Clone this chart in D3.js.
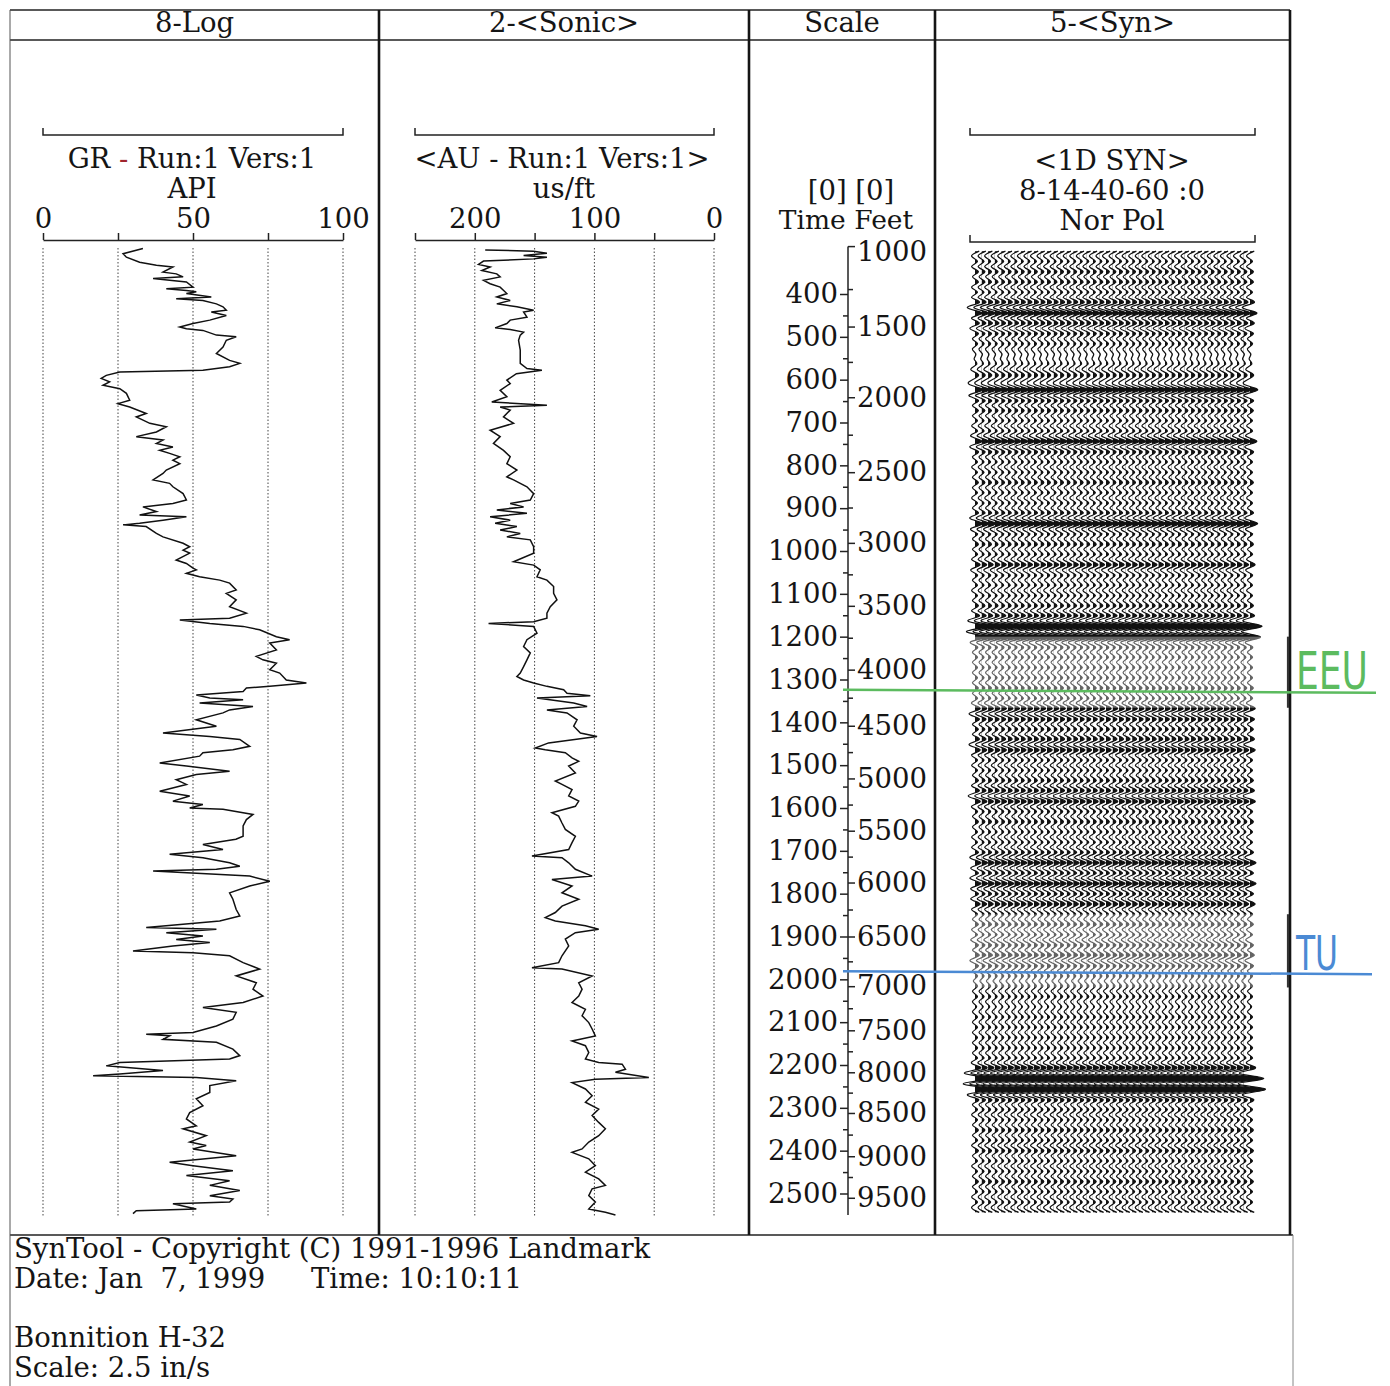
<!DOCTYPE html>
<html>
<head>
<meta charset="utf-8">
<script src="https://cdn.jsdelivr.net/npm/d3@7"></script>
<style>
body { margin: 0; background: #fff; }
text { fill: #151515; }
</style>
</head>
<body>
<svg id="chart" width="1390" height="1386"></svg>
<script>
// ---- data ----
var trackTitles = ["8-Log", "2-<Sonic>", "Scale", "5-<Syn>"];

// gamma ray (API) against two-way time (ms)
var grTime = [294,306,314,326,333,337,349,353,360,364,368,372,384,388,392,395,399,407,411,415,423,430,438,442,450,461,469,477,481,485,496,500,508,524,539,555,562,570,578,582,590,597,605,613,621,632,648,656,664,679,687,702,710,722,733,741,749,757,765,772,780,788,796,811,819,834,842,850,866,881,889,897,908,916,920,928,935,939,943,959,967,982,990,998,1005,1021,1029,1040,1044,1052,1060,1068,1075,1091,1099,1114,1130,1145,1157,1161,1169,1176,1184,1200,1207,1215,1231,1246,1254,1262,1277,1285,1301,1308,1316,1320,1328,1336,1343,1347,1355,1363,1371,1378,1394,1409,1425,1433,1440,1456,1464,1471,1479,1495,1502,1514,1522,1534,1545,1561,1572,1584,1592,1600,1603,1615,1627,1642,1666,1673,1685,1697,1708,1716,1728,1736,1743,1747,1759,1771,1782,1798,1813,1837,1852,1864,1879,1883,1891,1899,1907,1914,1922,1934,1938,1945,1961,1976,1992,2008,2023,2039,2054,2066,2077,2093,2109,2124,2128,2132,2140,2147,2163,2178,2186,2194,2202,2213,2221,2225,2229,2237,2248,2264,2279,2295,2311,2326,2342,2349,2365,2380,2388,2396,2412,2427,2435,2447,2458,2470,2481,2493,2505,2513,2520,2524,2536,2540,2547];
var grApi = [33.3,26.7,27.8,32.2,37.8,43.3,40,44.4,46.7,36.7,42.2,47.8,50,41.1,47.8,51.1,47.8,56.1,44.4,53.3,57.8,60,61.1,56.1,61.1,55.6,50,45.6,47.8,53.3,57.8,64.4,61.1,60,57.8,62.2,65.6,62.2,53.3,25.6,21.1,19.4,22.2,20,25.6,27.8,28.9,25,28.9,34.4,31.1,35.6,41.1,37.8,31.1,40,37.8,43.3,38.9,42.2,45.6,43.3,45.6,41.1,40,36.7,42.2,43.3,46.7,47.8,43.3,33.3,37.8,32.2,47.8,40,32.2,26.7,34.4,37.8,40,46.7,48.9,46.7,48.9,44.4,47.8,50,51.1,47.8,52.2,58.9,62.2,64.4,61.1,64.4,62.2,67.8,62.2,45.6,55.6,66.7,72.2,77.8,82.2,75.6,77.8,71.1,73.3,77.8,75.6,78.9,81.1,87.8,75.6,67.8,66.7,51.1,55.6,66.7,52.2,70,62.2,60,51.1,57.8,40,55.6,65.6,68.9,63.3,53.3,52.2,38.9,47.8,62.2,51.1,44.4,47.8,38.9,48.9,43.3,53.3,48.9,60,70,67.8,66.7,66.7,64.3,53.3,60,42.2,53.3,62.2,65.6,57.8,36.7,68.9,75.6,68.9,62.2,63.3,64.4,65.6,58.9,34.4,57.8,41.1,53.3,44.4,55.6,43.3,30,50,62.2,66.7,72.2,64.4,71.1,70,73.3,66.7,53.3,64.4,63.3,57.8,50,34.4,42.2,40,57.8,63.3,65.6,62.2,25.6,21.1,40,25.6,16.7,51.1,64.4,55.6,55.6,51.1,53.3,48.9,47.8,51.1,46.7,54.4,48.9,54.4,50,64.4,42.2,50,63.3,47.8,62.2,55.6,65.6,55.6,63.3,62.2,43.3,51.1,31.1,30];

// sonic (us/ft) against two-way time (ms)
var dtTime = [297,300,305,310,314,318,323,331,337,345,353,360,368,376,384,399,407,415,423,430,438,442,454,461,469,479,483,489,496,508,531,562,574,578,586,601,609,625,640,652,660,664,671,687,702,718,733,749,765,780,796,811,827,834,850,866,881,889,897,904,912,920,928,935,943,951,959,967,974,990,1005,1025,1033,1044,1060,1068,1083,1099,1114,1130,1145,1157,1165,1169,1176,1192,1207,1223,1238,1254,1270,1285,1293,1301,1308,1316,1324,1332,1338,1343,1355,1363,1371,1378,1394,1409,1425,1433,1448,1460,1464,1471,1483,1491,1502,1518,1537,1545,1557,1572,1584,1596,1611,1619,1635,1650,1666,1681,1697,1712,1716,1728,1743,1759,1767,1782,1798,1813,1829,1844,1856,1864,1875,1883,1891,1906,1922,1945,1961,1973,1976,1992,2008,2023,2039,2054,2070,2085,2101,2116,2132,2144,2155,2171,2186,2194,2198,2210,2217,2229,2233,2241,2256,2272,2287,2303,2318,2334,2349,2365,2380,2396,2404,2419,2435,2450,2466,2481,2489,2505,2520,2536,2544,2550];
var dtUs = [191.3,150.8,139.7,159.2,139.7,150.8,192.7,196.9,187.2,194.1,181.6,178.8,192.7,187.2,178.8,173.2,181.6,170.4,181.6,164.8,150.8,159.2,156.4,170.4,173.2,183,170.4,159.2,162,163.4,162,162,156.4,143.9,165.2,173.2,170.4,178.8,173.2,185.8,139.7,178.8,170.4,176,167.6,187.2,178.8,184.4,176,170.4,173.2,164.8,173.2,167.6,156.4,150.8,153.6,170.4,159.2,181.6,156.4,187.2,170.4,183,164.8,178.8,162,173.2,153.6,150.8,150.8,167.6,150.8,145.3,148,139.7,134.1,134.1,131.3,136.9,139.7,139.7,150.8,188.5,150.8,148,156.4,159.2,153.6,156.4,159.2,162,164.8,159.2,150.8,139.7,125.7,122.9,103.4,148,117.3,106.1,139.7,122.9,114.5,117.3,111.7,97.8,138.3,149.4,141.1,124.3,118.7,113.1,121.5,115.9,132.7,127.1,118.7,121.5,113.1,115.9,135.5,129.9,127.1,124.3,115.9,118.7,121.5,152.2,127.1,121.5,115.9,101.9,135.5,118.7,127.1,113.1,127.1,132.7,141.1,132.7,107.5,96.4,115.9,124.3,121.5,127.1,129.9,152.2,127.1,101.9,113.1,110.3,113.1,118.7,107.5,110.3,104.7,101.9,99.2,118.7,107.5,104.7,107.5,96.4,76.8,74,82.4,54.5,99.2,118.7,107.5,101.9,107.5,96.4,101.9,96.4,90.8,96.4,104.7,110.3,118.7,104.7,99.2,107.5,96.4,90.8,101.9,104.7,99.2,104.7,90.8,82.4];

var grTicks = [0, 25, 50, 75, 100];
var grLabels = [0, 50, 100];
var dtTicks = [250, 200, 150, 100, 50, 0];
var dtLabels = [200, 100, 0];

var timeTicks = [400,500,600,700,800,900,1000,1100,1200,1300,1400,1500,1600,1700,1800,1900,2000,2100,2200,2300,2400,2500];
var feetTicks = [1000,1500,2000,2500,3000,3500,4000,4500,5000,5500,6000,6500,7000,7500,8000,8500,9000,9500];
var feetTimes = [301,476,641,816,981,1128,1277,1408,1531,1653,1774,1900,2016,2119,2217,2312,2413,2510];

// synthetic trace, one amplitude every 12 ms starting at 300 ms
var traceStart = 300;
var traceStep = 12;
var traceCount = 43;
var traceAmp = [
  5,-4,3,-4,4,-3,4,-4,3,-4,
  5,-9,8,-4,5,-6,4,-3,3,-3,
  1,-1,2,-5,4,-3,-6,9,-7,4,
  -3,4,-3,3,-4,3,-5,8,-6,4,
  -3,3,-4,3,-3,4,-3,3,-4,3,
  -3,4,-6,9,-5,3,-3,4,-3,3,
  -4,6,-5,3,-3,3,-4,3,-3,4,
  -4,5,-8,14,-10,12,-5,3,-3,3,
  -3,3,-3,3,-3,4,-3,3,-4,6,
  -7,5,-3,4,-3,5,-7,6,-4,3,
  -4,3,-3,4,-4,5,-8,6,-4,3,
  -3,4,-3,3,-4,3,-4,4,-6,7,
  -5,4,-6,7,-5,4,-5,6,-4,3,
  -3,4,-4,3,-5,4,-3,5,-6,4,
  -3,3,-2,3,-3,3,-3,2,-3,3,
  -3,3,-3,3,-3,3,-3,3,-4,6,
  -12,16,-14,18,-8,4,-3,3,-4,3,
  -3,4,-3,3,-4,4,-3,3,-4,3,
  -3,4,-3,3,-4,3,-4,5
];

var horizonNames = ["EEU", "TU"];
var horizonTimes = [1324, 1981];
var zoneStart = [1200, 1848];
var zoneEnd = [1366, 2019];

var footerLines = ["SynTool - Copyright (C) 1991-1996 Landmark", "Date: Jan  7, 1999", "Bonnition H-32", "Scale: 2.5 in/s"];
var footerTime = "Time: 10:10:11";

// ---- layout ----
var svg = d3.select("#chart");
var serif = "'DejaVu Serif', serif";
var fontSize = 27.5;
var horizonColors = ["#5cbb5f", "#4b8ad4"];
var trackEdges = [10, 379, 749, 935, 1290];

var yScale = d3.scaleLinear().domain([400, 2500]).range([294, 1193.5]);
var grX = d3.scaleLinear().domain([0, 100]).range([43, 343]);
var dtX = d3.scaleLinear().domain([250, 0]).range([415, 714]);
var feetY = d3.scaleLinear().domain(feetTicks).range(feetTimes.map(yScale));

function label(x, y, str, anchor, size) {
  return svg.append("text")
      .attr("x", x)
      .attr("y", y)
      .attr("dy", "0.35em")
      .attr("text-anchor", anchor || "middle")
      .style("font-family", serif)
      .style("font-size", (size || fontSize) + "px")
      .text(str);
}

// frame
svg.append("line").attr("x1", 10).attr("x2", 1290).attr("y1", 10).attr("y2", 10)
    .attr("stroke", "#222").attr("stroke-width", 1.5);
svg.append("line").attr("x1", 10).attr("x2", 1290).attr("y1", 40).attr("y2", 40)
    .attr("stroke", "#222").attr("stroke-width", 1.5);
svg.append("line").attr("x1", 10).attr("x2", 1293).attr("y1", 1235).attr("y2", 1235)
    .attr("stroke", "#222").attr("stroke-width", 1.5);
svg.append("line").attr("x1", 10).attr("x2", 10).attr("y1", 10).attr("y2", 1386)
    .attr("stroke", "#555").attr("stroke-width", 1);
svg.append("line").attr("x1", 1293).attr("x2", 1293).attr("y1", 1235).attr("y2", 1386)
    .attr("stroke", "#888").attr("stroke-width", 1);
trackEdges.slice(1).forEach(function(x) {
  svg.append("line").attr("x1", x).attr("x2", x).attr("y1", 10).attr("y2", 1235)
      .attr("stroke", "#151515").attr("stroke-width", 2.6);
});

// header titles
trackTitles.forEach(function(t, i) {
  label((trackEdges[i] + trackEdges[i + 1]) / 2, 22, t);
});

function bracket(x1, x2, y) {
  svg.append("path")
      .attr("d", "M" + x1 + "," + (y - 7) + "V" + y + "H" + x2 + "V" + (y - 7))
      .attr("fill", "none").attr("stroke", "#222").attr("stroke-width", 1.5);
}

function styleAxis(g) {
  g.select(".domain").attr("stroke", "#222").attr("stroke-width", 1.5);
  g.attr("font-family", null).attr("font-size", null);
  g.selectAll("line").attr("stroke", "#222").attr("stroke-width", 1.5);
  g.selectAll("text").style("font-family", serif).style("font-size", fontSize + "px").attr("fill", "#151515");
}

// ---- GR track ----
bracket(43, 343, 135);
var grTitle = label(192, 158, "");
grTitle.append("tspan").text("GR ");
grTitle.append("tspan").style("fill", "#a0262e").text("-");
grTitle.append("tspan").text(" Run:1 Vers:1");
label(192, 188, "API");

svg.append("g")
    .attr("transform", "translate(0,240)")
    .call(d3.axisTop(grX).tickValues(grTicks).tickSizeInner(7).tickSizeOuter(0).tickPadding(5)
      .tickFormat(function(d) { return grLabels.indexOf(d) >= 0 ? d : ""; }))
    .call(styleAxis);

svg.append("g").selectAll("line")
    .data(grTicks).enter().append("line")
    .attr("x1", grX).attr("x2", grX)
    .attr("y1", 248).attr("y2", 1216)
    .attr("stroke", "#444").attr("stroke-width", 1).attr("stroke-dasharray", "1.5,2");

var grData = grTime.map(function(t, i) { return { t: t, v: grApi[i] }; });
svg.append("path")
    .datum(grData)
    .attr("d", d3.line().x(function(d) { return grX(d.v); }).y(function(d) { return yScale(d.t); }))
    .attr("fill", "none").attr("stroke", "#111").attr("stroke-width", 1.5);

// ---- sonic track ----
bracket(415, 714, 135);
label(562, 158, "<AU - Run:1 Vers:1>");
label(564, 188, "us/ft");

svg.append("g")
    .attr("transform", "translate(0,240)")
    .call(d3.axisTop(dtX).tickValues(dtTicks).tickSizeInner(7).tickSizeOuter(0).tickPadding(5)
      .tickFormat(function(d) { return dtLabels.indexOf(d) >= 0 ? d : ""; }))
    .call(styleAxis);

svg.append("g").selectAll("line")
    .data(dtTicks).enter().append("line")
    .attr("x1", dtX).attr("x2", dtX)
    .attr("y1", 248).attr("y2", 1216)
    .attr("stroke", "#444").attr("stroke-width", 1).attr("stroke-dasharray", "1.5,2");

var dtData = dtTime.map(function(t, i) { return { t: t, v: dtUs[i] }; });
svg.append("path")
    .datum(dtData)
    .attr("d", d3.line().x(function(d) { return dtX(d.v); }).y(function(d) { return yScale(d.t); }))
    .attr("fill", "none").attr("stroke", "#111").attr("stroke-width", 1.5);

// ---- scale track ----
label(851, 190, "[0] [0]");
label(846, 220, "Time Feet", "middle", 26.5);

svg.append("line").attr("x1", 848).attr("x2", 848)
    .attr("y1", feetY(1000) - 5).attr("y2", yScale(2550))
    .attr("stroke", "#222").attr("stroke-width", 1.5);
svg.append("line").attr("x1", 848).attr("x2", 855)
    .attr("y1", feetY(1000) - 5).attr("y2", feetY(1000) - 5)
    .attr("stroke", "#222").attr("stroke-width", 1.5);

function noDomain(g) { g.select(".domain").remove(); }

svg.append("g").attr("transform", "translate(848,0)")
    .call(d3.axisLeft(yScale).tickValues(timeTicks).tickSize(8).tickPadding(2).tickFormat(d3.format("d")))
    .call(styleAxis).call(noDomain);
svg.append("g").attr("transform", "translate(848,0)")
    .call(d3.axisLeft(yScale).tickValues(d3.range(450, 2500, 100)).tickSize(5).tickFormat(""))
    .call(styleAxis).call(noDomain);
var feetAxis = svg.append("g").attr("transform", "translate(848,0)")
    .call(d3.axisRight(feetY).tickValues(feetTicks).tickSize(7).tickPadding(2).tickFormat(d3.format("d")))
    .call(styleAxis).call(noDomain);
feetAxis.selectAll(".tick").filter(function(d) { return d === 1000; }).select("line").remove();
svg.append("g").attr("transform", "translate(848,0)")
    .call(d3.axisRight(feetY).tickValues(d3.range(1250, 9500, 500)).tickSize(5).tickFormat(""))
    .call(styleAxis).call(noDomain);

// ---- synthetic track ----
bracket(970, 1255, 135);
label(1112, 160, "<1D SYN>");
label(1112, 190, "8-14-40-60 :0");
label(1112, 220, "Nor Pol");
bracket(970, 1255, 242);

var traceData = traceAmp.map(function(a, i) { return { t: traceStart + i * traceStep, a: a }; });
var traceX = d3.scaleLinear().domain([0, traceCount - 1]).range([975, 1250]);
var ampX = d3.scaleLinear().domain([0, 10]).range([0, 8.5]);
var defs = svg.append("defs");
var syn = svg.append("g");

d3.range(traceCount).forEach(function(k) {
  var x0 = traceX(k);
  defs.append("clipPath").attr("id", "pos" + k)
    .append("rect").attr("x", x0).attr("y", 240).attr("width", 40).attr("height", 1000);
  var area = d3.area().curve(d3.curveNatural)
      .y(function(d) { return yScale(d.t); })
      .x0(x0)
      .x1(function(d) { return x0 + ampX(d.a); });
  var wiggle = d3.line().curve(d3.curveNatural)
      .y(function(d) { return yScale(d.t); })
      .x(function(d) { return x0 + ampX(d.a); });
  syn.append("path").datum(traceData).attr("d", area)
      .attr("clip-path", "url(#pos" + k + ")").attr("fill", "#111");
  syn.append("path").datum(traceData).attr("d", wiggle)
      .attr("fill", "none").attr("stroke", "#111").attr("stroke-width", 1.2);
});

// washed-out bands around the picks
zoneStart.forEach(function(t0, i) {
  svg.append("rect")
      .attr("x", 940).attr("width", 345)
      .attr("y", yScale(t0)).attr("height", yScale(zoneEnd[i]) - yScale(t0))
      .attr("fill", "#fff").attr("opacity", 0.35);
  svg.append("line").attr("x1", 1288).attr("x2", 1288)
      .attr("y1", yScale(t0)).attr("y2", yScale(zoneEnd[i]))
      .attr("stroke", "#333").attr("stroke-width", 2.2);
});

// horizon picks
horizonNames.forEach(function(name, i) {
  var y = yScale(horizonTimes[i]);
  svg.append("line").attr("x1", 843).attr("x2", 1376 - i * 4)
      .attr("y1", y).attr("y2", y + 3)
      .attr("stroke", horizonColors[i]).attr("stroke-width", 2.5);
  svg.append("text")
      .attr("x", 1296).attr("y", y - 1)
      .attr("textLength", i === 0 ? 72 : 42)
      .attr("lengthAdjust", "spacingAndGlyphs")
      .style("font-family", "'DejaVu Sans Condensed', 'DejaVu Sans', sans-serif")
      .style("font-size", (i === 0 ? 52 : 48) + "px")
      .style("fill", horizonColors[i])
      .text(name);
});

// ---- footer ----
label(14, 1248, footerLines[0], "start");
label(14, 1278, footerLines[1], "start").style("white-space", "pre");
label(311, 1278, footerTime, "start");
label(14, 1337, footerLines[2], "start");
label(14, 1367, footerLines[3], "start");
</script>
</body>
</html>
